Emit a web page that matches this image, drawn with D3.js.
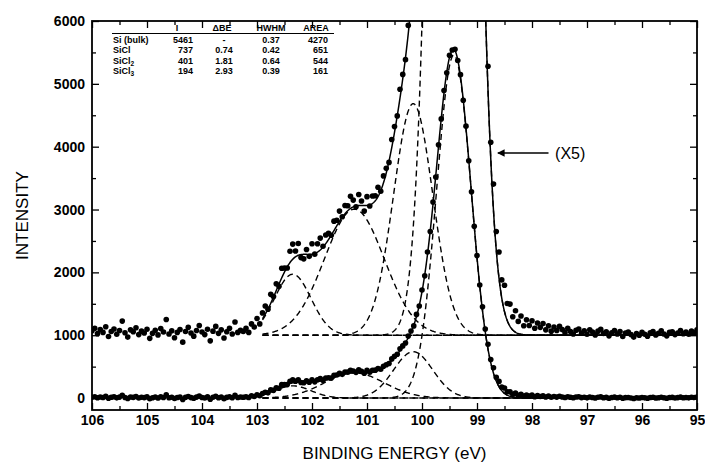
<!DOCTYPE html>
<html>
<head>
<meta charset="utf-8">
<script src="https://cdn.jsdelivr.net/npm/d3@7"></script>
<style>
body { margin: 0; background: #fff; }
text { font-family: "Liberation Sans", Arial, sans-serif; }
</style>
</head>
<body>
<div class="chart"></div>
<script>
// fit components (from the table in the figure)
var comps = ['Si (bulk)', 'SiCl', 'SiCl2', 'SiCl3'];
var peakI = [5461, 737, 401, 194];
var dBE = [0, 0.74, 1.81, 2.93];
var dBElabel = ['-', '0.74', '1.81', '2.93'];
var hwhm = [0.37, 0.42, 0.64, 0.39];
var hwhmLabel = ['0.37', '0.42', '0.64', '0.39'];
var area = [4270, 651, 544, 161];
var bulkBE = 99.42;

// fit window, upper trace = x5 + 1000
var fitHi = 102.9, fitLo = 95;
var upScale = 5, upOffset = 1000;

// measured counts, 106.00 eV down to 95.00 eV in 0.05 eV steps
var startBE = 106, stepBE = 0.05;
var counts = [
	14,22,5,18,9,27,-4,12,20,3,
	15,45,8,-6,17,11,24,2,13,7,
	19,-10,6,16,1,21,10,50,4,14,
	-8,9,18,-22,12,25,7,-3,15,31,
	10,2,19,-18,13,28,6,17,-9,11,
	22,4,42,9,16,12,
	22,9,36,26,53,36,71,93,83,130,
	123,164,156,213,214,214,267,290,268,292,
	247,243,273,251,291,258,291,309,283,319,
	324,318,363,366,395,377,413,412,442,430,
	409,448,427,395,441,411,443,444,471,458,
	507,531,550,623,664,698,783,830,877,986,
	1068,1148,1331,1465,1720,1945,2324,2651,3118,3516,
	4029,4442,4893,5175,5456,5538,5551,5372,5146,4740,
	4327,3776,3284,2735,2268,1800,1451,1098,856,614,
	481,330,265,176,159,101,99,59,78,44,
	61,30,49,31,46,22,39,25,37,17,
	30,13,26,15,28,
	18,9,22,12,4,16,20,7,14,3,
	17,10,1,13,19,6,11,-2,8,15,
	4,12,-4,7,10,2,-6,5,0,9,
	3,-3,8,12,1,6,14,4,-2,9,
	11,2,7,15,5,10,3,13,8,17
];

var xTicks = [106, 105, 104, 103, 102, 101, 100, 99, 98, 97, 96, 95];
var yTicks = [0, 1000, 2000, 3000, 4000, 5000, 6000];

var margin = {top: 21, right: 8, bottom: 59, left: 92}
var width = 705 - margin.left - margin.right;
var height = 469 - margin.top - margin.bottom;

var svg = d3.select('.chart')
	.append('svg')
		.attr('width', 705)
		.attr('height', 469)

var g = svg.append('g')
	.attr('transform', `translate(${margin.left}, ${margin.top})`)

var xScale = d3.scaleLinear().domain([106, 95]).range([0, width]);
var yScale = d3.scaleLinear().domain([-190, 6000]).range([height, 0]);

g.append('clipPath').attr('id', 'clip')
	.append('rect').attr('width', width).attr('height', height)

var plot = g.append('g').attr('clip-path', 'url(#clip)')

function gauss(E, k) {
	var d = (E - (bulkBE + dBE[k])) / hwhm[k];
	return peakI[k] * Math.exp(-Math.LN2 * d * d);
}

var grid = d3.range(0, Math.round((fitHi - fitLo) / 0.01) + 1).map(i => fitHi - i * 0.01);
var energy = counts.map((d, i) => startBE - i * stepBE);

var layers = [{s: 1, o: 0}, {s: upScale, o: upOffset}];

layers.forEach(function(L) {
	// baseline
	plot.append('line')
		.attr('x1', xScale(fitHi)).attr('x2', xScale(fitLo))
		.attr('y1', yScale(L.o)).attr('y2', yScale(L.o))
		.attr('stroke', '#000').attr('stroke-width', 1.4)
		.attr('stroke-dasharray', '6,4')

	// components
	comps.forEach(function(c, k) {
		var line = d3.line()
			.x(E => xScale(E))
			.y(E => yScale(L.o + L.s * gauss(E, k)));
		plot.append('path')
			.attr('d', line(grid))
			.attr('fill', 'none')
			.attr('stroke', '#000').attr('stroke-width', 1.4)
			.attr('stroke-dasharray', '6,4')
	})

	// envelope
	var sum = d3.line()
		.x(E => xScale(E))
		.y(E => yScale(L.o + L.s * d3.sum(comps, (c, k) => gauss(E, k))));
	plot.append('path')
		.attr('d', sum(grid))
		.attr('fill', 'none')
		.attr('stroke', '#000').attr('stroke-width', 1.5)

	// data
	plot.append('g').selectAll('circle')
		.data(counts)
		.enter()
		.append('circle')
		.attr('cx', (d, i) => xScale(energy[i]))
		.attr('cy', d => yScale(L.o + L.s * d))
		.attr('r', 2.8)
		.attr('fill', '#000')
})

// axes, ticks inward on all sides
function styleAxis(sel) {
	sel.select('.domain').remove();
	sel.selectAll('line').attr('stroke', '#000').attr('stroke-width', 1.3);
	sel.selectAll('text')
		.attr('fill', '#000')
		.style('font-size', '14px')
		.style('font-weight', 'bold');
}

var minorX = d3.range(105.5, 95, -1);
var minorY = [500, 1500, 2500, 3500, 4500, 5500];

g.append('g').attr('transform', `translate(0, ${height})`)
	.call(d3.axisBottom(xScale).tickValues(xTicks).tickSize(-7).tickSizeOuter(0).tickPadding(5).tickFormat(d3.format('d')))
	.call(styleAxis)
g.append('g').attr('transform', `translate(0, ${height})`)
	.call(d3.axisBottom(xScale).tickValues(minorX).tickSize(-4).tickSizeOuter(0).tickFormat(''))
	.call(styleAxis)
g.append('g')
	.call(d3.axisTop(xScale).tickValues(xTicks).tickSize(-7).tickSizeOuter(0).tickFormat(''))
	.call(styleAxis)
g.append('g')
	.call(d3.axisTop(xScale).tickValues(minorX).tickSize(-4).tickSizeOuter(0).tickFormat(''))
	.call(styleAxis)

g.append('g')
	.call(d3.axisLeft(yScale).tickValues(yTicks).tickSize(-7).tickSizeOuter(0).tickPadding(7).tickFormat(d3.format('d')))
	.call(styleAxis)
g.append('g')
	.call(d3.axisLeft(yScale).tickValues(minorY).tickSize(-4).tickSizeOuter(0).tickFormat(''))
	.call(styleAxis)
g.append('g').attr('transform', `translate(${width}, 0)`)
	.call(d3.axisRight(yScale).tickValues(yTicks).tickSize(-7).tickSizeOuter(0).tickFormat(''))
	.call(styleAxis)
g.append('g').attr('transform', `translate(${width}, 0)`)
	.call(d3.axisRight(yScale).tickValues(minorY).tickSize(-4).tickSizeOuter(0).tickFormat(''))
	.call(styleAxis)

g.append('rect')
	.attr('width', width)
	.attr('height', height)
	.attr('fill', 'none')
	.attr('stroke', '#000')
	.attr('stroke-width', 1.8)

// axis titles
svg.append('text')
	.attr('x', margin.left + width / 2)
	.attr('y', 459)
	.attr('text-anchor', 'middle')
	.style('font-size', '17px')
	.text('BINDING ENERGY (eV)')

svg.append('text')
	.attr('transform', `translate(28, ${margin.top + height / 2}) rotate(-90)`)
	.attr('text-anchor', 'middle')
	.style('font-size', '17px')
	.text('INTENSITY')

// (X5) arrow
var arrowY = 3900;
svg.append('defs').append('marker')
	.attr('id', 'ah').attr('viewBox', '0 0 10 10')
	.attr('refX', 9).attr('refY', 5)
	.attr('markerWidth', 7).attr('markerHeight', 5)
	.attr('orient', 'auto')
	.append('path').attr('d', 'M0,0L10,5L0,10z').attr('fill', '#000')

g.append('line')
	.attr('x1', xScale(97.7)).attr('x2', xScale(98.62))
	.attr('y1', yScale(arrowY)).attr('y2', yScale(arrowY))
	.attr('stroke', '#000').attr('stroke-width', 1.5)
	.attr('marker-end', 'url(#ah)')

g.append('text')
	.attr('x', xScale(97.58))
	.attr('y', yScale(arrowY) + 6)
	.style('font-size', '16px')
	.text('(X5)')

// parameter table
var tbl = svg.append('g').style('font-size', '9px').style('font-weight', 'bold')
var colX = {name: 113, I: 193, be: 222, hw: 271, ar: 316};
var headY = 31, rowY = [42.5, 53, 63.5, 74];

tbl.append('text').attr('x', 177).attr('y', headY).attr('text-anchor', 'middle').text('I')
tbl.append('text').attr('x', colX.be).attr('y', headY).attr('text-anchor', 'middle').text('ΔBE')
tbl.append('text').attr('x', colX.hw).attr('y', headY).attr('text-anchor', 'middle').text('HWHM')
tbl.append('text').attr('x', colX.ar).attr('y', headY).attr('text-anchor', 'middle').text('AREA')
tbl.append('line').attr('x1', 112).attr('x2', 334).attr('y1', headY + 2.5).attr('y2', headY + 2.5)
	.attr('stroke', '#000').attr('stroke-width', 1.1)

comps.forEach(function(c, k) {
	var t = tbl.append('text').attr('x', colX.name).attr('y', rowY[k])
	var m = c.match(/^(SiCl)(\d)$/)
	if (m) {
		t.append('tspan').text(m[1])
		t.append('tspan').attr('dy', 2).style('font-size', '6.5px').text(m[2])
	} else {
		t.text(c)
	}
	tbl.append('text').attr('x', colX.I).attr('y', rowY[k]).attr('text-anchor', 'end').text(peakI[k])
	tbl.append('text').attr('x', colX.be + 2).attr('y', rowY[k]).attr('text-anchor', 'middle').text(dBElabel[k])
	tbl.append('text').attr('x', colX.hw).attr('y', rowY[k]).attr('text-anchor', 'middle').text(hwhmLabel[k])
	tbl.append('text').attr('x', colX.ar + 12).attr('y', rowY[k]).attr('text-anchor', 'end').text(area[k])
})
</script>
</body>
</html>
